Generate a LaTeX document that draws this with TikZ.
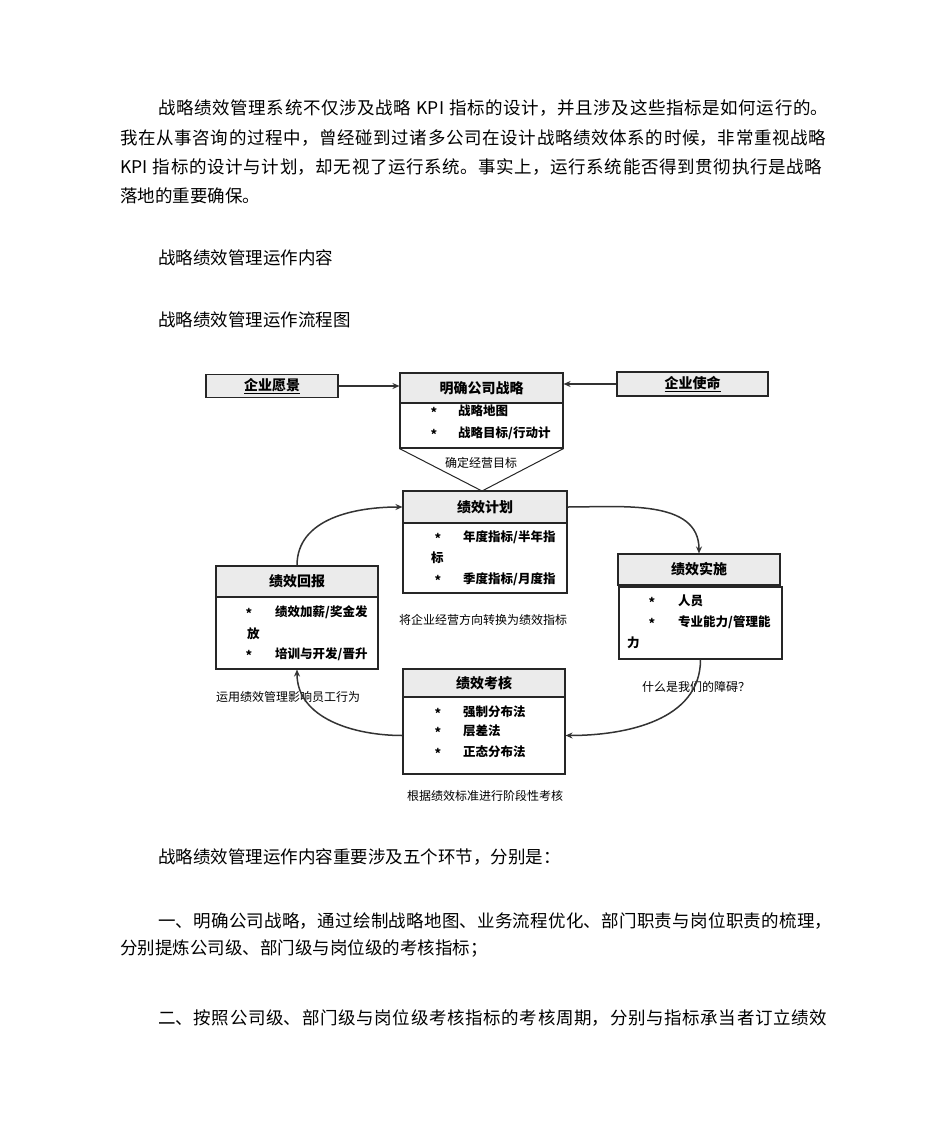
\documentclass[tikz,border=0pt]{standalone}
\usepackage{fontspec}
\setmainfont{Noto Sans CJK SC}
\usetikzlibrary{arrows.meta}
\XeTeXlinebreaklocale "zh"
\XeTeXlinebreakskip=0pt plus 4pt
\newcommand{\jline}[2]{\parbox[c]{#1}{\parindent=0pt\parfillskip=0pt\leftskip=0pt\rightskip=0pt #2}}
\newcommand{\ksp}{\hspace{0.3em}}
\begin{document}
\begin{tikzpicture}[x=1pt,y=-1pt,
  para/.style={anchor=west, inner sep=0pt, font=\fontsize{17.5}{20}\selectfont},
  hdr/.style={draw=black!85, line width=1.1pt, fill=black!8, inner sep=0pt, font=\bfseries\fontsize{14}{16}\selectfont},
  bodybox/.style={draw=black!85, line width=1.1pt, fill=white, inner sep=0pt},
  item/.style={anchor=west, inner sep=0pt, font=\bfseries\fontsize{12.5}{14}\selectfont},
  star/.style={inner sep=0pt, font=\bfseries\fontsize{12.5}{14}\selectfont},
  lbl/.style={inner sep=0pt, font=\fontsize{12}{14}\selectfont},
  flow/.style={draw=black!80, line width=1.5pt, -{Stealth[length=7pt,width=6pt]}}]
\useasboundingbox (0,0) rectangle (950,1129);
\fill[white] (0,0) rectangle (950,1129);

% paragraphs
\node[para] (p1) at (158,108) {\jline{670pt}{战略绩效管理系统不仅涉及战略\ksp KPI\ksp 指标的设计，并且涉及这些指标是如何运行的。}};
\node[para] (p2) at (120,138) {\jline{706pt}{我在从事咨询的过程中，曾经碰到过诸多公司在设计战略绩效体系的时候，非常重视战略}};
\node[para] (p3) at (120,167) {\jline{702pt}{KPI\ksp 指标的设计与计划，却无视了运行系统。事实上，运行系统能否得到贯彻执行是战略}};
\node[para] (p4) at (120,196) {落地的重要确保。};
\node[para] (h1) at (158,258) {战略绩效管理运作内容};
\node[para] (h2) at (158,320) {战略绩效管理运作流程图};

\node[para] (q1) at (158,857) {战略绩效管理运作内容重要涉及五个环节，分别是：};
\node[para] (q2) at (158,921) {\jline{674pt}{一、明确公司战略，通过绘制战略地图、业务流程优化、部门职责与岗位职责的梳理，}};
\node[para] (q3) at (120,948) {分别提炼公司级、部门级与岗位级的考核指标；};
\node[para] (q4) at (158,1018) {\jline{669pt}{二、按照公司级、部门级与岗位级考核指标的考核周期，分别与指标承当者订立绩效}};

% top row
\node[hdr, minimum width=132pt, minimum height=23pt] (vision) at (272,386) {\underline{企业愿景}};
\node[hdr, minimum width=151pt, minimum height=24pt] (mission) at (692.5,384) {\underline{企业使命}};
\node[hdr, minimum width=163pt, minimum height=30pt] (strath) at (481.5,388) {明确公司战略};
\node[bodybox, minimum width=163pt, minimum height=45pt] (stratb) at (481.5,425.5) {};
\node[star] (s1) at (434,412) {*};
\node[item] (s1t) at (458,411) {战略地图};
\node[star] (s2) at (434,434) {*};
\node[item] (s2t) at (458,433) {战略目标/行动计};
\coordinate (apex) at (482,491);
\draw[draw=black!85, line width=1pt] (stratb.south west) -- (apex) -- (stratb.south east);
\node[lbl] (goal) at (481,463) {确定经营目标};

\draw[flow] (vision.east) -- (vision.east -| strath.west);
\draw[flow] (mission.west) -- (mission.west -| strath.east);

% plan
\node[hdr, minimum width=164pt, minimum height=32pt] (planh) at (485,507) {绩效计划};
\node[bodybox, minimum width=164pt, minimum height=70pt] (planb) at (485,558) {};
\node[star] (a1) at (438,538) {*};
\node[item] (a1t) at (463,537) {年度指标/半年指};
\node[item] (a1u) at (431,558) {标};
\node[star] (a2) at (438,580) {*};
\node[item] (a2t) at (463,579) {季度指标/月度指};
\node[lbl] (planl) at (483,620) {将企业经营方向转换为绩效指标};

% implementation
\node[hdr, minimum width=162pt, minimum height=31pt] (implh) at (699,569.5) {绩效实施};
\node[bodybox, minimum width=163pt, minimum height=72pt] (implb) at (700.5,623) {};
\node[star] (b1) at (652,602) {*};
\node[item] (b1t) at (678,601) {人员};
\node[star] (b2) at (652,623) {*};
\node[item] (b2t) at (678,622) {专业能力/管理能};
\node[item] (b2u) at (627,643) {力};
\node[lbl] (impll) at (696,687) {什么是我们的障碍？};

% reward
\node[hdr, minimum width=162pt, minimum height=31pt] (rewh) at (297,581.5) {绩效回报};
\node[bodybox, minimum width=162pt, minimum height=72pt] (rewb) at (297,633) {};
\node[star] (c1) at (249,613) {*};
\node[item] (c1t) at (275,612) {绩效加薪/奖金发};
\node[item] (c1u) at (247,634) {放};
\node[star] (c2) at (249,655) {*};
\node[item] (c2t) at (275,654) {培训与开发/晋升};
\node[lbl, anchor=west] (rewl) at (216,697) {运用绩效管理影响员工行为};

% evaluation
\node[hdr, minimum width=162pt, minimum height=28pt] (evalh) at (484,683) {绩效考核};
\node[bodybox, minimum width=162pt, minimum height=77pt] (evalb) at (484,735.5) {};
\node[star] (d1) at (438,713) {*};
\node[item] (d1t) at (463,712) {强制分布法};
\node[star] (d2) at (438,732) {*};
\node[item] (d2t) at (463,731) {层差法};
\node[star] (d3) at (438,753) {*};
\node[item] (d3t) at (463,752) {正态分布法};
\node[lbl] (evall) at (485,796) {根据绩效标准进行阶段性考核};

% cycle arrows
\draw[flow] (planh.east) to[out=0,in=90] (implh.north);
\draw[flow] (implb.south) to[out=-90,in=0] (evalb.east);
\draw[flow] (evalb.west) to[out=180,in=-90] (rewb.south);
\draw[flow] (rewh.north) to[out=90,in=180] (planh.west);
\end{tikzpicture}
\end{document}
